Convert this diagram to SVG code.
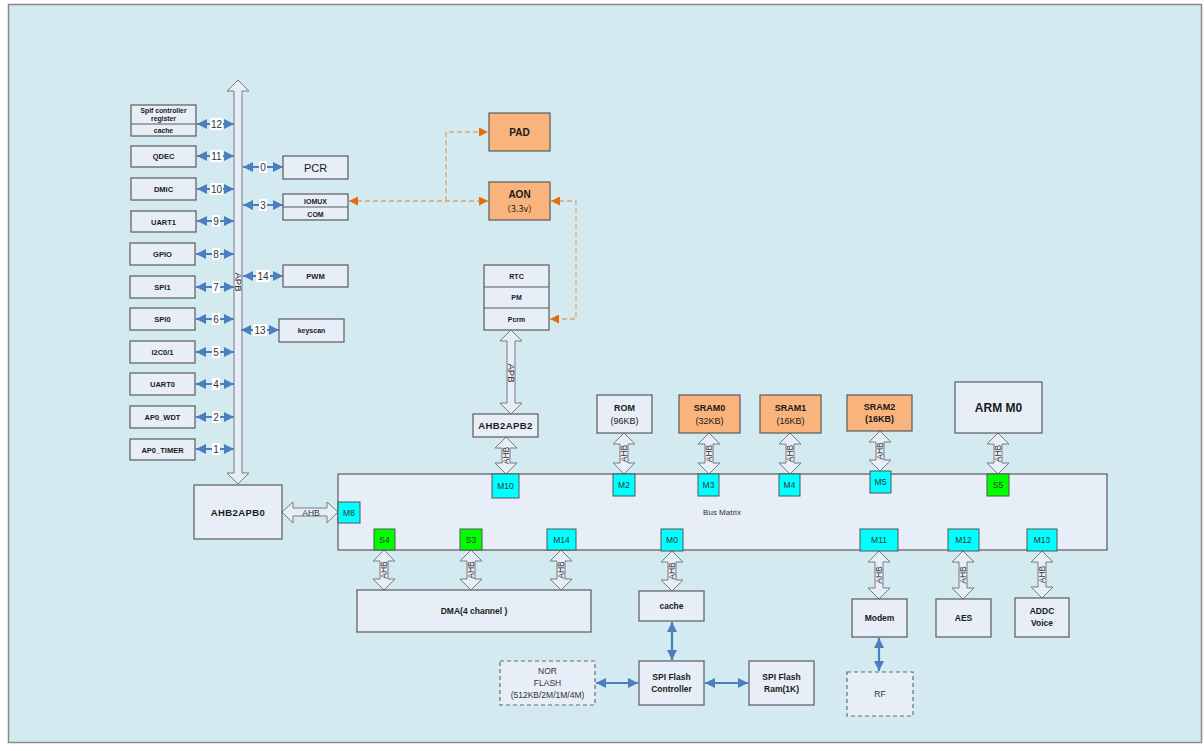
<svg xmlns="http://www.w3.org/2000/svg" width="1204" height="751" viewBox="0 0 1204 751">
<style>
text{font-family:"Liberation Sans",Arial,"Noto Sans CJK SC",sans-serif;fill:#1a1a1a;text-anchor:middle}
.box{fill:#e7eef8;stroke:#5a5a5a;stroke-width:1.2}
.org{fill:#f8b47c;stroke:#5a5a5a;stroke-width:1.2}
.dash{fill:#e7eef8;stroke:#6a6a6a;stroke-width:1.2;stroke-dasharray:4,3}
.cy{fill:#00ffff;stroke:#555;stroke-width:1}
.gr{fill:#00ff00;stroke:#555;stroke-width:1}
.hol{fill:#e7eef8;stroke:#7a7a7a;stroke-width:1}
.sb{font-size:7.5px;font-weight:bold}
.b9{font-size:9px;font-weight:bold}
.n9{font-size:9px}
.pt{font-size:8.5px;fill:#333}
.lbl{font-size:8.5px;fill:#333}
.apb{font-size:9.5px;fill:#333}
.num{font-size:10px;fill:#333}
.blue{stroke:#4a7ebf;stroke-width:2;fill:none;marker-start:url(#ba);marker-end:url(#ba)}
.bl2{stroke:#4a7ebf;stroke-width:2.2;fill:none;marker-start:url(#bb);marker-end:url(#bb)}
.od{stroke:#e2a266;stroke-width:1.3;stroke-dasharray:5,3;fill:none}
</style>
<defs>
<marker id="ba" viewBox="0 0 10 10" refX="10" refY="5" markerWidth="12" markerHeight="10" markerUnits="userSpaceOnUse" orient="auto-start-reverse"><path d="M0,0 L10,5 L0,10 z" fill="#4a7ebf"/></marker>
<marker id="bb" viewBox="0 0 10 10" refX="10" refY="5" markerWidth="11" markerHeight="10" markerUnits="userSpaceOnUse" orient="auto-start-reverse"><path d="M0,0 L10,5 L0,10 z" fill="#4a7ebf"/></marker>
<marker id="oa" viewBox="0 0 10 10" refX="10" refY="5" markerWidth="10" markerHeight="9" markerUnits="userSpaceOnUse" orient="auto-start-reverse"><path d="M0,0 L10,5 L0,10 z" fill="#e46c0a"/></marker>
</defs>
<rect x="8.5" y="4.5" width="1193" height="738" fill="#d2eaf0" stroke="#8a8a8a" stroke-width="1.5"/>

<g id="connectors">
<path class="hol" d="M238,80 L249,91 L242,91 L242,473 L249,473 L238,484 L227,473 L234,473 L234,91 L227,91 Z"/>
<text class="apb" transform="translate(234.5,282) rotate(90)">APB</text>
<line class="blue" x1="197" y1="124" x2="234" y2="124"/>
<line class="blue" x1="197" y1="156" x2="234" y2="156"/>
<line class="blue" x1="197" y1="189" x2="234" y2="189"/>
<line class="blue" x1="197" y1="221" x2="234" y2="221"/>
<line class="blue" x1="196" y1="254" x2="234" y2="254"/>
<line class="blue" x1="196" y1="287" x2="234" y2="287"/>
<line class="blue" x1="196" y1="319" x2="234" y2="319"/>
<line class="blue" x1="196" y1="352" x2="234" y2="352"/>
<line class="blue" x1="196" y1="384" x2="234" y2="384"/>
<line class="blue" x1="196" y1="417" x2="234" y2="417"/>
<line class="blue" x1="196" y1="449" x2="234" y2="449"/>
<line class="blue" x1="243" y1="167" x2="283" y2="167"/>
<line class="blue" x1="243" y1="205" x2="283" y2="205"/>
<line class="blue" x1="243" y1="276" x2="283" y2="276"/>
<line class="blue" x1="241" y1="330" x2="279" y2="330"/>
<g>
<rect x="210" y="118" width="13" height="12" fill="#fff"/><text class="num" x="216.5" y="128">12</text>
<rect x="210" y="150" width="13" height="12" fill="#fff"/><text class="num" x="216.5" y="160">11</text>
<rect x="210" y="183" width="13" height="12" fill="#fff"/><text class="num" x="216.5" y="193">10</text>
<rect x="212" y="215" width="8" height="12" fill="#fff"/><text class="num" x="216" y="225">9</text>
<rect x="212" y="248" width="8" height="12" fill="#fff"/><text class="num" x="216" y="258">8</text>
<rect x="212" y="281" width="8" height="12" fill="#fff"/><text class="num" x="216" y="291">7</text>
<rect x="212" y="313" width="8" height="12" fill="#fff"/><text class="num" x="216" y="323">6</text>
<rect x="212" y="346" width="8" height="12" fill="#fff"/><text class="num" x="216" y="356">5</text>
<rect x="212" y="378" width="8" height="12" fill="#fff"/><text class="num" x="216" y="388">4</text>
<rect x="212" y="411" width="8" height="12" fill="#fff"/><text class="num" x="216" y="421">2</text>
<rect x="212" y="443" width="8" height="12" fill="#fff"/><text class="num" x="216" y="453">1</text>
<rect x="259" y="161" width="8" height="12" fill="#fff"/><text class="num" x="263" y="171">0</text>
<rect x="259" y="199" width="8" height="12" fill="#fff"/><text class="num" x="263" y="209">3</text>
<rect x="256" y="270" width="14" height="12" fill="#fff"/><text class="num" x="263" y="280">14</text>
<rect x="253" y="324" width="14" height="12" fill="#fff"/><text class="num" x="260" y="334">13</text>
</g>
<line class="od" x1="349" y1="201" x2="488" y2="201" marker-start="url(#oa)" marker-end="url(#oa)"/>
<polyline class="od" points="446,201 446,132 488,132" marker-end="url(#oa)"/>
<polyline class="od" points="551,201 576,201 576,319 550,319" marker-start="url(#oa)" marker-end="url(#oa)"/>
<path class="hol" d="M511,330 L522,341 L515,341 L515,403 L522,403 L511,414 L500,403 L507,403 L507,341 L500,341 Z"/>
<text class="apb" transform="translate(507.5,373) rotate(90)">APB</text>
<path class="hol" d="M282,512 L293,502 L293,508 L327,508 L327,502 L338,512 L327,523 L327,516 L293,516 L293,523 Z"/>
<text class="lbl" x="311" y="515.5">AHB</text>
<g>
<path class="hol" d="M506,437 L517,448 L510,448 L510,463 L517,463 L506,474 L495,463 L502,463 L502,448 L495,448 Z"/>
<text class="lbl" transform="translate(509,455.5) rotate(-90)">AHB</text>
<path class="hol" d="M624,433 L635,444 L628,444 L628,463 L635,463 L624,474 L613,463 L620,463 L620,444 L613,444 Z"/>
<text class="lbl" transform="translate(627,453.5) rotate(-90)">AHB</text>
<path class="hol" d="M709,433 L720,444 L713,444 L713,463 L720,463 L709,474 L698,463 L705,463 L705,444 L698,444 Z"/>
<text class="lbl" transform="translate(712,453.5) rotate(-90)">AHB</text>
<path class="hol" d="M790,433 L801,444 L794,444 L794,463 L801,463 L790,474 L779,463 L786,463 L786,444 L779,444 Z"/>
<text class="lbl" transform="translate(793,453.5) rotate(-90)">AHB</text>
<path class="hol" d="M880,431 L891,442 L884,442 L884,460 L891,460 L880,471 L869,460 L876,460 L876,442 L869,442 Z"/>
<text class="lbl" transform="translate(883,451) rotate(-90)">AHB</text>
<path class="hol" d="M998,433 L1009,444 L1002,444 L1002,463 L1009,463 L998,474 L987,463 L994,463 L994,444 L987,444 Z"/>
<text class="lbl" transform="translate(1001,453.5) rotate(-90)">AHB</text>
<path class="hol" d="M384,550 L395,561 L388,561 L388,579 L395,579 L384,590 L373,579 L380,579 L380,561 L373,561 Z"/>
<text class="lbl" transform="translate(387,570) rotate(-90)">AHB</text>
<path class="hol" d="M471,550 L482,561 L475,561 L475,579 L482,579 L471,590 L460,579 L467,579 L467,561 L460,561 Z"/>
<text class="lbl" transform="translate(474,570) rotate(-90)">AHB</text>
<path class="hol" d="M561,550 L572,561 L565,561 L565,579 L572,579 L561,590 L550,579 L557,579 L557,561 L550,561 Z"/>
<text class="lbl" transform="translate(564,570) rotate(-90)">AHB</text>
<path class="hol" d="M672,551 L683,562 L676,562 L676,580 L683,580 L672,591 L661,580 L668,580 L668,562 L661,562 Z"/>
<text class="lbl" transform="translate(675,571) rotate(-90)">AHB</text>
<path class="hol" d="M879,551 L890,562 L883,562 L883,588 L890,588 L879,599 L868,588 L875,588 L875,562 L868,562 Z"/>
<text class="lbl" transform="translate(882,575) rotate(-90)">AHB</text>
<path class="hol" d="M963,551 L974,562 L967,562 L967,588 L974,588 L963,599 L952,588 L959,588 L959,562 L952,562 Z"/>
<text class="lbl" transform="translate(966,575) rotate(-90)">AHB</text>
<path class="hol" d="M1042,551 L1053,562 L1046,562 L1046,587 L1053,587 L1042,598 L1031,587 L1038,587 L1038,562 L1031,562 Z"/>
<text class="lbl" transform="translate(1045,574.5) rotate(-90)">AHB</text>
</g>
<line class="bl2" x1="672" y1="622" x2="672" y2="660"/>
<line class="bl2" x1="596" y1="683" x2="638" y2="683"/>
<line class="bl2" x1="705" y1="683" x2="748" y2="683"/>
<line class="bl2" x1="879" y1="638" x2="879" y2="671"/>
</g>

<g id="spif"><rect class="box" x="131" y="105" width="65" height="31"/><line x1="131" y1="124" x2="196" y2="124" stroke="#5a5a5a" stroke-width="1.2"/>
<text style="font-size:6.8px;font-weight:bold" x="163.5" y="112.5">Spif controller</text><text style="font-size:6.8px;font-weight:bold" x="163.5" y="121">register</text><text style="font-size:6.8px;font-weight:bold" x="163.5" y="132.5">cache</text></g>
<g id="qdec"><rect class="box" x="131" y="146" width="65" height="21"/><text class="sb" x="163.5" y="159">QDEC</text></g>
<g id="dmic"><rect class="box" x="131" y="178" width="65" height="22"/><text class="sb" x="163.5" y="192">DMIC</text></g>
<g id="uart1"><rect class="box" x="131" y="211" width="65" height="21"/><text class="sb" x="163.5" y="224.5">UART1</text></g>
<g id="gpio"><rect class="box" x="130" y="243" width="65" height="22"/><text class="sb" x="162.5" y="257">GPIO</text></g>
<g id="spi1"><rect class="box" x="130" y="276" width="65" height="22"/><text class="sb" x="162.5" y="290">SPI1</text></g>
<g id="spi0"><rect class="box" x="130" y="308" width="65" height="22"/><text class="sb" x="162.5" y="322">SPI0</text></g>
<g id="i2c"><rect class="box" x="130" y="341" width="65" height="22"/><text class="sb" x="162.5" y="355">I2C0/1</text></g>
<g id="uart0"><rect class="box" x="130" y="373" width="65" height="22"/><text class="sb" x="162.5" y="387">UART0</text></g>
<g id="wdt"><rect class="box" x="130" y="406" width="65" height="22"/><text class="sb" x="162.5" y="420">AP0_WDT</text></g>
<g id="timer"><rect class="box" x="130" y="439" width="65" height="21"/><text class="sb" x="162.5" y="452.5">AP0_TIMER</text></g>

<g id="pcr"><rect class="box" x="283" y="156" width="65" height="23"/><text style="font-size:11px" x="315.5" y="171.5">PCR</text></g>
<g id="iomux"><rect class="box" x="283" y="194" width="65" height="26"/><line x1="283" y1="207" x2="348" y2="207" stroke="#5a5a5a" stroke-width="1.2"/>
<text style="font-size:7px;font-weight:bold" x="315.5" y="203.5">IOMUX</text><text style="font-size:7px;font-weight:bold" x="315.5" y="216.5">COM</text></g>
<g id="pwm"><rect class="box" x="283" y="265" width="65" height="22"/><text class="sb" x="315.5" y="279">PWM</text></g>
<g id="keyscan"><rect class="box" x="279" y="319" width="65" height="23"/><text style="font-size:7px;font-weight:bold" x="311.5" y="333">keyscan</text></g>

<g id="pad"><rect class="org" x="489" y="113" width="61" height="38"/><text style="font-size:10px;font-weight:bold" x="519.5" y="135.5">PAD</text></g>
<g id="aon"><rect class="org" x="489" y="182" width="61" height="38"/><text style="font-size:10px;font-weight:bold" x="519.5" y="198">AON</text><text style="font-size:9px;font-family:'Noto Sans CJK SC','Liberation Sans',sans-serif" x="519.5" y="211.5">（3.3v）</text></g>
<g id="rtc"><rect class="box" x="484" y="265" width="65" height="65"/><line x1="484" y1="287" x2="549" y2="287" stroke="#5a5a5a" stroke-width="1.2"/><line x1="484" y1="308" x2="549" y2="308" stroke="#5a5a5a" stroke-width="1.2"/>
<text style="font-size:7px;font-weight:bold" x="516.5" y="278.5">RTC</text><text style="font-size:7px;font-weight:bold" x="516.5" y="300">PM</text><text style="font-size:7px;font-weight:bold" x="516.5" y="321.5">Pcrm</text></g>
<g id="ahb2apb2"><rect class="box" x="473" y="414" width="65" height="23"/><text style="font-size:9.5px;font-weight:bold;letter-spacing:0.4px" x="505.5" y="429">AHB2APB2</text></g>
<g id="rom"><rect class="box" x="597" y="395" width="55" height="38"/><text class="b9" x="624.5" y="411">ROM</text><text class="n9" x="624.5" y="424">(96KB)</text></g>
<g id="sram0"><rect class="org" x="679" y="395" width="61" height="38"/><text class="b9" x="709.5" y="411">SRAM0</text><text class="n9" x="709.5" y="424">(32KB)</text></g>
<g id="sram1"><rect class="org" x="760" y="395" width="61" height="38"/><text class="b9" x="790.5" y="411">SRAM1</text><text class="n9" x="790.5" y="424">(16KB)</text></g>
<g id="sram2"><rect class="org" x="847" y="395" width="65" height="36"/><text class="b9" x="879.5" y="410">SRAM2</text><text class="b9" x="879.5" y="422">(16KB)</text></g>
<g id="armm0"><rect class="box" x="955" y="382" width="87" height="51"/><text style="font-size:12px;font-weight:bold" x="998.5" y="411.5">ARM M0</text></g>

<g id="busmatrix"><rect class="box" x="338" y="474" width="769" height="76"/><text style="font-size:8px;fill:#333" x="722" y="515">Bus Matrix</text>
<rect class="cy" x="492" y="474" width="27" height="24"/><text class="pt" x="505.5" y="489">M10</text>
<rect class="cy" x="613" y="474" width="22" height="22"/><text class="pt" x="624" y="488">M2</text>
<rect class="cy" x="698" y="474" width="21" height="22"/><text class="pt" x="708.5" y="488">M3</text>
<rect class="cy" x="779" y="474" width="21" height="22"/><text class="pt" x="789.5" y="488">M4</text>
<rect class="cy" x="870" y="471" width="21" height="22"/><text class="pt" x="880.5" y="485">M5</text>
<rect class="gr" x="987" y="474" width="22" height="22"/><text class="pt" x="998" y="488">S5</text>
<rect class="cy" x="338" y="502" width="22" height="21"/><text class="pt" x="349" y="515.5">M8</text>
<rect class="gr" x="374" y="529" width="21" height="21"/><text class="pt" x="384.5" y="542.5">S4</text>
<rect class="gr" x="460" y="529" width="22" height="21"/><text class="pt" x="471" y="542.5">S3</text>
<rect class="cy" x="547" y="529" width="29" height="21"/><text class="pt" x="561.5" y="542.5">M14</text>
<rect class="cy" x="661" y="529" width="22" height="22"/><text class="pt" x="672" y="543">M0</text>
<rect class="cy" x="860" y="529" width="38" height="22"/><text class="pt" x="879" y="543">M11</text>
<rect class="cy" x="948" y="529" width="31" height="22"/><text class="pt" x="963.5" y="543">M12</text>
<rect class="cy" x="1027" y="529" width="30" height="22"/><text class="pt" x="1042" y="543">M13</text>
</g>
<g id="ahb2apb0"><rect class="box" x="194" y="485" width="88" height="54"/><text style="font-size:9.5px;font-weight:bold;letter-spacing:0.4px" x="238" y="515.5">AHB2APB0</text></g>
<g id="dma"><rect class="box" x="357" y="590" width="234" height="42"/><text style="font-size:8.5px;font-weight:bold" x="474" y="614">DMA(4 channel )</text></g>
<g id="cache"><rect class="box" x="639" y="591" width="65" height="30"/><text style="font-size:8.5px;font-weight:bold" x="671.5" y="609">cache</text></g>
<g id="modem"><rect class="box" x="852" y="599" width="55" height="38"/><text style="font-size:8.5px;font-weight:bold" x="879.5" y="621">Modem</text></g>
<g id="aes"><rect class="box" x="936" y="599" width="55" height="38"/><text style="font-size:8.5px;font-weight:bold" x="963.5" y="621">AES</text></g>
<g id="addc"><rect class="box" x="1015" y="598" width="54" height="39"/><text style="font-size:8.5px;font-weight:bold" x="1042" y="614">ADDC</text><text style="font-size:8.5px;font-weight:bold" x="1042" y="626">Voice</text></g>
<g id="nor"><rect class="dash" x="500" y="661" width="95" height="44"/><text style="font-size:8.5px;fill:#333" x="547.5" y="674">NOR</text><text style="font-size:8.5px;fill:#333" x="547.5" y="686">FLASH</text><text style="font-size:8.5px;fill:#333" x="547.5" y="698">(512KB/2M/1M/4M)</text></g>
<g id="spictrl"><rect class="box" x="639" y="661" width="65" height="44"/><text style="font-size:8.5px;font-weight:bold" x="671.5" y="680">SPI Flash</text><text style="font-size:8.5px;font-weight:bold" x="671.5" y="692">Controller</text></g>
<g id="spiram"><rect class="box" x="749" y="661" width="65" height="44"/><text style="font-size:8.5px;font-weight:bold" x="781.5" y="680">SPI Flash</text><text style="font-size:8.5px;font-weight:bold" x="781.5" y="692">Ram(1K)</text></g>
<g id="rf"><rect class="dash" x="847" y="672" width="66" height="44"/><text style="font-size:8.5px;fill:#333" x="880" y="697">RF</text></g>
</svg>
